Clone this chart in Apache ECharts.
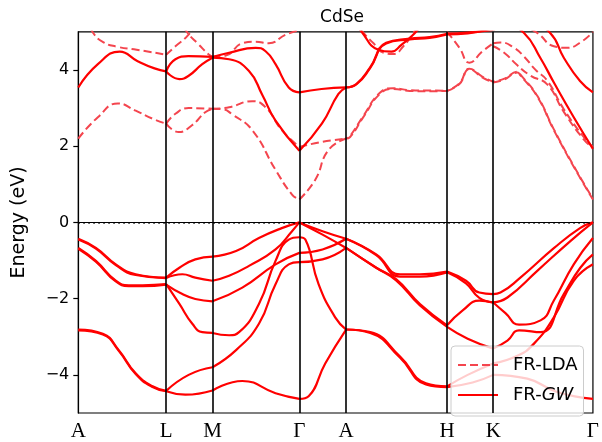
<!DOCTYPE html>
<html><head><meta charset="utf-8">
<script src="https://cdn.jsdelivr.net/npm/echarts/dist/echarts.min.js"></script>
<style>html,body{margin:0;padding:0;background:#fff}#c{width:602px;height:442px}</style>
</head><body><div id="c"></div>
<script>
// k-path positions of high-symmetry points and their labels
const kTicks = [0, 88.4, 135, 222.4, 269.4, 371, 417.4, 517.7];
const kLabels = ['A', 'L', 'M', 'Γ', 'A', 'H', 'K', 'Γ'];
const yTicks = [-4, -2, 0, 2, 4];

// ---------- FR-GW valence bands ----------
const gwVB1 = [[0,-0.43],[17.7,-0.67],[37.7,-1.10],[57.7,-1.36],[88.4,-1.45],
  [101.7,-1.19],[117.7,-0.97],[135,-0.90],
  [158.7,-0.75],[181.7,-0.41],[204.7,-0.15],[222.4,0],
  [245.7,-0.23],[269.4,-0.43],
  [299.7,-0.84],[323.7,-1.36],[343.7,-1.36],[371,-1.29],
  [390,-1.53],[403.4,-1.84],[417.4,-1.88],
  [424.7,-1.84],[444.7,-1.45],[478.7,-0.67],[504.7,-0.15],[517.7,0]];
const gwVB2 = [[0,-0.45],[17.7,-0.69],[37.7,-1.12],[57.7,-1.38],[88.4,-1.46],
  [104.7,-1.36],[117.7,-1.45],[135,-1.53],
  [151.7,-1.40],[171.7,-1.14],[198.4,-0.71],[215,-0.23],[222.4,0],
  [245.7,-0.32],[269.4,-0.67],
  [299.7,-1.19],[319.7,-1.49],[343.7,-2.14],[371,-2.70],
  [386.7,-2.31],[403.4,-2.05],[417.4,-2.10],
  [429.7,-2.38],[443.4,-2.68],[465,-2.57],[478.4,-2.05],[498.4,-1.10],[517.7,-0.41]];
const gwVB3 = [[0,-0.67],[17.7,-1.01],[37.7,-1.53],[50.7,-1.65],[64.7,-1.65],[88.4,-1.62],
  [101.7,-2.14],[114.7,-2.66],[124.7,-2.88],[135,-2.90],
  [151.7,-2.96],[161.7,-2.88],[181.7,-2.14],[198.4,-1.01],[211.7,-0.45],[222.4,-0.39],
  [228.4,-0.45],[241.7,-1.62],[258.4,-2.49],[269.4,-2.81],
  [293.7,-2.88],[323.7,-3.52],[349.7,-4.22],[371,-4.30],
  [391.7,-4.0],[417.4,-3.7],
  [441.7,-3.5],[458.4,-3.18],[478.4,-2.49],[498.4,-1.53],[517.7,-1.10]];
const gwVB4 = [[0,-0.69],[17.7,-1.03],[37.7,-1.55],[50.7,-1.67],[64.7,-1.67],[88.4,-1.63],
  [104.7,-1.88],[117.7,-2.01],[135,-2.07],
  [165,-1.71],[198.4,-1.10],[222.4,-0.80],
  [245.7,-0.71],[269.4,-0.43],
  [299.7,-0.86],[323.7,-1.42],[343.7,-1.42],[371,-1.31],
  [390,-1.60],[403.4,-1.98],[417.4,-2.10],
  [431.7,-1.97],[461.7,-1.27],[495,-0.49],[517.7,0]];
const gwVB5 = [[0,-2.81],[24.7,-2.92],[40.7,-3.35],[57.7,-3.96],[74.7,-4.30],[88.4,-4.42],
  [111,-4.0],[135,-3.80],
  [158.7,-3.35],[181.7,-2.66],[198.4,-1.62],[211.7,-1.10],[222.4,-1.04],
  [245.7,-0.97],[269.4,-0.67],
  [299.7,-1.19],[319.7,-1.52],[343.7,-2.18],[371,-2.74],
  [391.7,-3.05],[417.4,-3.31],
  [431.7,-3.1],[443.4,-2.83],[465,-2.88],[488.4,-1.88],[505,-1.19],[517.7,-0.84]];
const gwVB6 = [[0,-2.83],[24.7,-2.94],[40.7,-3.37],[57.7,-3.98],[74.7,-4.32],[88.4,-4.43],
  [107.7,-4.52],[135,-4.41],
  [165,-4.16],[198.4,-4.48],[222.4,-4.63],
  [231.7,-4.56],[248.4,-3.70],[269.4,-2.81],
  [293.7,-2.90],[323.7,-3.55],[349.7,-4.25],[371,-4.32],
  [396.7,-4.2],[417.4,-4.0],
  [451.7,-4.1],[481.7,-4.45],[517.7,-4.63]];

// ---------- FR-GW conduction bands ----------
const gwCB1 = [[0,3.54],[19.7,4.15],[41.7,4.48],[59.7,4.23],[76.7,4.04],[88.4,3.96],
  [101.7,3.76],[110.7,3.84],[124.7,4.15],[135,4.32],
  [151.7,4.28],[171.7,3.97],[185,3.35],[198.4,2.67],[222.4,1.88],
  [245,2.59],[261.7,3.37],[269.4,3.54],
  [279.7,3.63],[293.4,4.06],[309.7,4.71],[333.4,4.82],[353.4,4.86],[371,4.95],
  [391.7,4.98],[417.4,5.05],
  [431.7,5.15],[448.4,4.97],[464.7,4.32],[478.4,3.67],[498.4,2.76],[517.7,1.93]];
const gwCB2 = [[88.4,3.96],[97.7,4.28],[110.7,4.36],[135,4.34],
  [151.7,4.45],[178.4,4.58],[188.4,4.49],[198.4,4.15],[211.7,3.54],[222.4,3.41],
  [244.7,3.50],[269.4,3.54],
  [279.7,3.62],[293.4,4.04],[309.7,4.69],[333.4,4.80],[353.4,4.84],[371,4.93],
  [391.7,4.96],[417.4,5.1],
  [445,5.5],[474.7,4.97],[488.4,4.32],[504.7,3.71],[517.7,3.41]];
const gwCB3 = [[275,5.4],[285,5.0],[301.7,4.53],[315,4.48],[325,4.66],[338.4,4.96],[345,5.2]];

// ---------- FR-LDA conduction bands ----------
const ldaCB1 = [[0,2.20],[19.7,2.76],[39.7,3.12],[57.7,2.93],[74.7,2.72],[88.4,2.59],
  [101,2.37],[114.4,2.55],[127.7,2.89],[135,2.98],
  [145,2.97],[155,2.83],[175,2.42],[198.4,1.38],[215,0.73],[222.4,0.60],
  [238.4,1.12],[251.7,1.90],[269.4,2.20],
  [273.4,2.24],[286.7,2.76],[303.4,3.37],[316.7,3.50],[333.4,3.45],[353.4,3.44],[371,3.45],
  [383.4,3.63],[393.4,4.02],[406.7,3.80],[417.4,3.67],
  [428.7,3.75],[441.7,3.93],[445,3.85],[461.7,3.3],[478.4,2.42],[498.4,1.46],[517.7,0.60]];
const ldaCB1b = [[269.4,2.20],[273.4,2.27],[286.7,2.79],[303.4,3.40],[316.7,3.52],[333.4,3.47],[353.4,3.46],[371,3.45],
  [383.4,3.65],[393.4,4.03],[406.7,3.82],[417.4,3.69],
  [428.7,3.77],[441.7,3.95],[445,3.87],[461.7,3.32],[478.4,2.44],[498.4,1.48],[517.7,0.62]];
const ldaCB2 = [[88.4,2.59],[97.7,2.85],[111,3.00],[135,2.98],
  [151.7,3.02],[175,3.18],[188.4,3.02],[204.7,2.42],[222.4,1.98],
  [244.7,2.11],[269.4,2.20]];
const ldaCB3 = [[371,5.0],[383.4,4.58],[393.4,4.19],[406.7,4.49],[417.4,4.70],
  [424.7,4.72],[438.4,4.58],[448.4,4.35],[460,4.0],[471.7,3.72],[488.4,2.97],[508.4,2.24],[517.7,1.98]];
const ldaCB4 = [[417.4,4.62],[428.4,4.45],[441.7,4.12],[455,3.85],[471.7,3.62],[488.4,2.9],[508.4,2.18],[517.7,1.96]];
const ldaCB5 = [[445,5.2],[461.7,4.97],[478.4,4.62],[491.7,4.58],[506.7,4.75],[517.7,5.0]];
const ldaCB6 = [[135,4.35],[148.4,4.38],[165,4.70],[178.4,4.74],[191.7,4.70],[208.4,4.92],[222.4,5.05]];
const ldaCB7 = [[0,5.6],[10,5.3],[15,4.97],[25,4.73],[38.7,4.61],[58.7,4.53],[88.4,4.40],
  [97.7,4.62],[110.7,4.92],[120,5.3]];
const ldaCB8 = [[100,5.4],[110,4.97],[121,4.67],[131,4.41],[135,4.35]];
const ldaCB9 = [[278,5.3],[287,4.97],[297,4.7],[307,4.45],[317,4.42],[327,4.62],[337,4.97],[342,5.2]];

const gwValence = [gwVB1, gwVB2, gwVB3, gwVB4, gwVB5, gwVB6];
const gwConduction = [gwCB1, gwCB2, gwCB3];
const ldaBands = [ldaCB1, ldaCB2, ldaCB3, ldaCB4, ldaCB5, ldaCB6, ldaCB7, ldaCB8, ldaCB9];
const ldaPairBands = [ldaCB1b];

const isTick = k => kTicks.some(t => Math.abs(t - k) < 1e-6);
function segments(band) {
  const out = []; let cur = [band[0]];
  for (let i = 1; i < band.length; i++) {
    cur.push(band[i]);
    if (isTick(band[i][0]) && i < band.length - 1) { out.push(cur); cur = [band[i]]; }
  }
  out.push(cur);
  return out;
}
const series = [];
function addBands(bands, name, lineStyle) {
  bands.forEach(b => segments(b).forEach(seg => series.push({
    type: 'line', name: name, data: seg, smooth: 0.5,
    symbol: 'none', silent: true, clip: true, animation: false,
    lineStyle: lineStyle, itemStyle: {color: lineStyle.color}
  })));
}
const ldaColor = '#f4454e';
const gwColor = '#ff0000';
addBands(ldaBands, 'FR-LDA', {color: ldaColor, width: 2, type: [8, 4]});
addBands(ldaPairBands, 'FR-LDA', {color: ldaColor, width: 2, type: [8, 4], dashOffset: 6});
addBands(gwValence, 'FR-GW', {color: gwColor, width: 2.2});
addBands(gwConduction, 'FR-GW', {color: gwColor, width: 2.2});

// reference lines: high-symmetry verticals and Fermi level
series.push({
  type: 'line', name: 'refs', data: [], silent: true, animation: false, symbol: 'none',
  markLine: {
    silent: true, symbol: ['none', 'none'], label: {show: false}, animation: false,
    data: kTicks.slice(1, -1).map(k => ({xAxis: k, lineStyle: {color: '#000', width: 1.6, type: 'solid'}}))
      .concat([{yAxis: 0, lineStyle: {color: '#000', width: 1.5, type: [1.5, 3.5]}}])
  }
});

const chart = echarts.init(document.getElementById('c'), null, {renderer: 'canvas'});
chart.setOption({
  animation: false,
  title: {text: 'CdSe', left: 337, top: 4, textAlign: 'center',
    textStyle: {fontFamily: 'DejaVu Sans', fontSize: 17, fontWeight: 'normal', color: '#000'}},
  grid: {left: 78.3, right: 6, top: 31.8, bottom: 25.5, show: true, borderColor: '#000', borderWidth: 1.2, backgroundColor: 'transparent'},
  legend: {
    data: ['FR-LDA', 'FR-GW'], orient: 'vertical', left: 451, top: 346,
    itemWidth: 40, itemHeight: 14, itemGap: 12, padding: [10, 6, 12, 6],
    itemStyle: {opacity: 0},
    backgroundColor: 'rgba(255,255,255,0.8)', borderColor: '#cccccc', borderWidth: 1, borderRadius: 4,
    formatter: n => n === 'FR-GW' ? 'FR-{i|GW}' : n,
    textStyle: {fontFamily: 'DejaVu Sans', fontSize: 18, color: '#000', padding: [0, 0, 0, 10],
      rich: {i: {fontFamily: 'DejaVu Sans', fontStyle: 'italic', fontSize: 18, color: '#000'}}}
  },
  xAxis: {
    type: 'value', min: 0, max: kTicks[kTicks.length - 1],
    axisLine: {show: true, lineStyle: {color: '#000', width: 1.2}},
    axisTick: {show: false},
    splitLine: {show: false},
    axisLabel: {customValues: kTicks, showMinLabel: true, showMaxLabel: true, margin: 8,
      fontFamily: 'Liberation Serif', fontSize: 21, color: '#000',
      formatter: v => { let best = 0; kTicks.forEach((t, i) => { if (Math.abs(t - v) < Math.abs(kTicks[best] - v)) best = i; }); return kLabels[best]; }}
  },
  yAxis: {
    type: 'value', min: -5, max: 5,
    name: 'Energy (eV)', nameLocation: 'middle', nameGap: 50, nameRotate: 90,
    nameTextStyle: {fontFamily: 'DejaVu Sans', fontSize: 19, color: '#000'},
    axisLine: {show: true, lineStyle: {color: '#000', width: 1.2}},
    axisTick: {show: true, customValues: yTicks, length: 5, lineStyle: {color: '#000', width: 1.2}},
    splitLine: {show: false},
    axisLabel: {customValues: yTicks, margin: 9, fontFamily: 'DejaVu Sans', fontSize: 16, color: '#000',
      formatter: v => v < 0 ? '\u2212' + (-v) : String(v)}
  },
  series: series
});
</script></body></html>
